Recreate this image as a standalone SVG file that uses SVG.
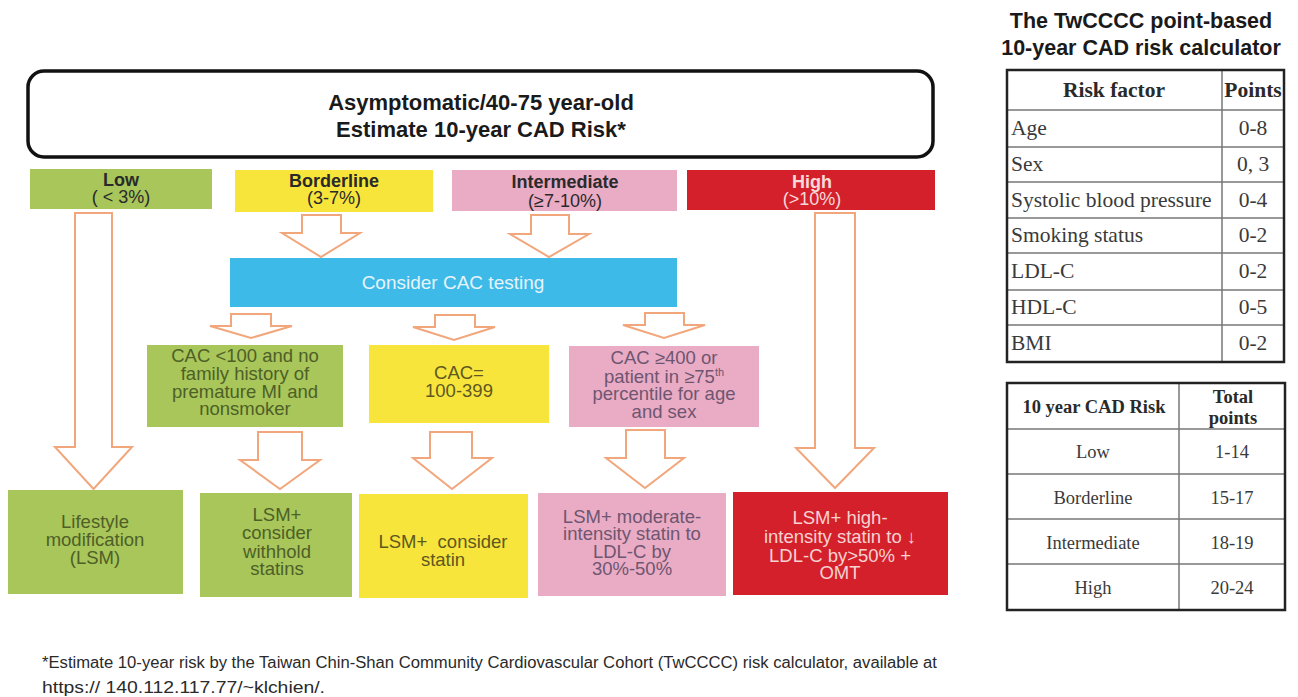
<svg xmlns="http://www.w3.org/2000/svg" width="1298" height="697" viewBox="0 0 1298 697">
<style>
.sans{font-family:"Liberation Sans",Arial,sans-serif}
.serif{font-family:"Liberation Serif","Times New Roman",serif}
.arrow{fill:#fff;stroke:#f2a67b;stroke-width:2;stroke-linejoin:miter}
.green{fill:#a8c65a}
.yellow{fill:#f8e53c}
.pink{fill:#eaabc5}
.red{fill:#d4202a}
.blue{fill:#3dbae8}
.t{font-family:"Liberation Sans",Arial,sans-serif;font-size:18.5px;text-anchor:middle}
.tg{fill:#4e5f27}
.ty{fill:#5e5820}
.tp{fill:#6e5670}
.tr{fill:#f7d2d2}
.lbl{font-family:"Liberation Sans",Arial,sans-serif;font-size:18px;text-anchor:middle;fill:#2a2a2a}
.tab{font-family:"Liberation Serif","Times New Roman",serif;font-size:21.5px;fill:#3a3a3a}
.tab2{font-family:"Liberation Serif","Times New Roman",serif;font-size:18.5px;fill:#3a3a3a;text-anchor:middle}
.outer{fill:none;stroke:#222;stroke-width:2.5}
.inner{stroke:#777;stroke-width:1.5}
</style>
<rect width="1298" height="697" fill="#fff"/>

<g id="connectors">
  <path class="arrow" d="M75,213 H112 V447 H132 L93.5,489 L55,447 H75 Z"/>
  <path class="arrow" d="M815,213 H855 V448 H874 L835,488 L796,448 H815 Z"/>
  <path class="arrow" d="M302,215 H341 V233 H360 L321,257 L282,233 H302 Z"/>
  <path class="arrow" d="M531,215 H569 V234 H589 L549,257 L510,234 H531 Z"/>
  <path class="arrow" d="M231,314 H271 V326 H292 L251,338 L210,326 H231 Z"/>
  <path class="arrow" d="M435,315 H475 V327 H495 L454,340 L413,327 H435 Z"/>
  <path class="arrow" d="M645,313 H684 V325 H705 L664,338 L623,325 H645 Z"/>
  <path class="arrow" d="M258,432 H302 V460 H320 L280,489 L240,460 H258 Z"/>
  <path class="arrow" d="M430,432 H472 V458 H492 L452,489 L413,458 H430 Z"/>
  <path class="arrow" d="M626,430 H665 V458 H684 L645,488 L606,458 H626 Z"/>
</g>

<g id="top">
  <rect x="28" y="71" width="905" height="86" rx="16" ry="16" fill="#fff" stroke="#111" stroke-width="3.5"/>
  <text class="sans" x="481" y="110" font-size="22" font-weight="bold" text-anchor="middle" fill="#1a1a1a">Asymptomatic/40-75 year-old</text>
  <text class="sans" x="481" y="137" font-size="22" font-weight="bold" text-anchor="middle" fill="#1a1a1a">Estimate 10-year CAD Risk*</text>
</g>

<g id="low">
  <rect class="green" x="30" y="169" width="182" height="40"/>
  <text class="lbl" x="121" y="186" font-weight="bold">Low</text>
  <text class="lbl" x="121" y="203">( &lt; 3%)</text>
</g>
<g id="borderline">
  <rect class="yellow" x="235" y="170" width="198" height="42"/>
  <text class="lbl" x="334" y="187" font-weight="bold">Borderline</text>
  <text class="lbl" x="334" y="204">(3-7%)</text>
</g>
<g id="intermediate">
  <rect class="pink" x="452" y="170" width="225" height="41"/>
  <text class="lbl" x="565" y="188" font-weight="bold">Intermediate</text>
  <text class="lbl" x="565" y="207">(≥7-10%)</text>
</g>
<g id="high">
  <rect class="red" x="687" y="170" width="248" height="40"/>
  <text class="lbl" x="812" y="188" font-weight="bold" style="fill:#f6dada">High</text>
  <text class="lbl" x="812" y="205" style="fill:#f6dada">(&gt;10%)</text>
</g>

<g id="cac-testing">
  <rect class="blue" x="230" y="258" width="447" height="49"/>
  <text class="sans" x="453" y="289" font-size="19" text-anchor="middle" fill="#e6f4fb">Consider CAC testing</text>
</g>

<g id="cac-low">
  <rect class="green" x="147" y="345" width="196" height="82"/>
  <text class="t tg" x="245" y="362">CAC &lt;100 and no</text>
  <text class="t tg" x="245" y="380">family history of</text>
  <text class="t tg" x="245" y="398">premature MI and</text>
  <text class="t tg" x="245" y="415">nonsmoker</text>
</g>
<g id="cac-mid">
  <rect class="yellow" x="369" y="345" width="180" height="78"/>
  <text class="t ty" x="459" y="379">CAC=</text>
  <text class="t ty" x="459" y="397">100-399</text>
</g>
<g id="cac-high">
  <rect class="pink" x="569" y="346" width="190" height="81"/>
  <text class="t tp" x="664" y="364">CAC ≥400 or</text>
  <text class="t tp" x="664" y="383">patient in ≥75<tspan font-size="11" dy="-7">th</tspan></text>
  <text class="t tp" x="664" y="400">percentile for age</text>
  <text class="t tp" x="664" y="418">and sex</text>
</g>

<g id="lsm">
  <rect class="green" x="8" y="490" width="175" height="104"/>
  <text class="t tg" x="95" y="528">Lifestyle</text>
  <text class="t tg" x="95" y="546">modification</text>
  <text class="t tg" x="95" y="564">(LSM)</text>
</g>
<g id="lsm-withhold">
  <rect class="green" x="200" y="493" width="152" height="104"/>
  <text class="t tg" x="277" y="521">LSM+</text>
  <text class="t tg" x="277" y="539">consider</text>
  <text class="t tg" x="277" y="558">withhold</text>
  <text class="t tg" x="277" y="575">statins</text>
</g>
<g id="lsm-statin">
  <rect class="yellow" x="359" y="494" width="169" height="104"/>
  <text class="t ty" x="443" y="548" xml:space="preserve">LSM+  consider</text>
  <text class="t ty" x="443" y="566">statin</text>
</g>
<g id="lsm-moderate">
  <rect class="pink" x="538" y="493" width="188" height="103"/>
  <text class="t tp" x="632" y="523">LSM+ moderate-</text>
  <text class="t tp" x="632" y="540">intensity statin to</text>
  <text class="t tp" x="632" y="558">LDL-C by</text>
  <text class="t tp" x="632" y="575">30%-50%</text>
</g>
<g id="lsm-high">
  <rect class="red" x="733" y="492" width="215" height="103"/>
  <text class="t tr" x="840" y="524">LSM+ high-</text>
  <text class="t tr" x="840" y="543">intensity statin to ↓</text>
  <text class="t tr" x="840" y="562">LDL-C by&gt;50% +</text>
  <text class="t tr" x="840" y="579">OMT</text>
</g>

<g id="calculator-title">
  <text class="sans" x="1141" y="28" font-size="21.5" font-weight="bold" text-anchor="middle" fill="#1a1a1a">The TwCCCC point-based</text>
  <text class="sans" x="1141" y="55" font-size="21.5" font-weight="bold" text-anchor="middle" fill="#1a1a1a">10-year CAD risk calculator</text>
</g>

<g id="risk-factor-table">
  <line class="inner" x1="1222" y1="70" x2="1222" y2="362"/>
  <line class="inner" x1="1007" y1="110" x2="1284" y2="110"/>
  <line class="inner" x1="1007" y1="147" x2="1284" y2="147"/>
  <line class="inner" x1="1007" y1="182" x2="1284" y2="182"/>
  <line class="inner" x1="1007" y1="218" x2="1284" y2="218"/>
  <line class="inner" x1="1007" y1="253" x2="1284" y2="253"/>
  <line class="inner" x1="1007" y1="290" x2="1284" y2="290"/>
  <line class="inner" x1="1007" y1="325" x2="1284" y2="325"/>
  <rect class="outer" x="1007" y="70" width="277" height="292"/>
  <text class="tab" x="1114" y="97" font-weight="bold" text-anchor="middle" style="fill:#2a2a2a">Risk factor</text>
  <text class="tab" x="1253" y="97" font-weight="bold" text-anchor="middle" style="fill:#2a2a2a">Points</text>
  <text class="tab" x="1011" y="135">Age</text>
  <text class="tab" x="1011" y="171">Sex</text>
  <text class="tab" x="1011" y="207">Systolic blood pressure</text>
  <text class="tab" x="1011" y="242">Smoking status</text>
  <text class="tab" x="1011" y="278">LDL-C</text>
  <text class="tab" x="1011" y="314">HDL-C</text>
  <text class="tab" x="1011" y="350">BMI</text>
  <text class="tab" x="1253" y="135" text-anchor="middle">0-8</text>
  <text class="tab" x="1253" y="171" text-anchor="middle">0, 3</text>
  <text class="tab" x="1253" y="207" text-anchor="middle">0-4</text>
  <text class="tab" x="1253" y="242" text-anchor="middle">0-2</text>
  <text class="tab" x="1253" y="278" text-anchor="middle">0-2</text>
  <text class="tab" x="1253" y="314" text-anchor="middle">0-5</text>
  <text class="tab" x="1253" y="350" text-anchor="middle">0-2</text>
</g>

<g id="total-points-table">
  <line class="inner" x1="1179" y1="383" x2="1179" y2="610"/>
  <line class="inner" x1="1007" y1="429" x2="1285" y2="429"/>
  <line class="inner" x1="1007" y1="474" x2="1285" y2="474"/>
  <line class="inner" x1="1007" y1="519" x2="1285" y2="519"/>
  <line class="inner" x1="1007" y1="564" x2="1285" y2="564"/>
  <rect class="outer" x="1007" y="383" width="278" height="227"/>
  <text class="tab2" x="1094" y="413" font-weight="bold" style="fill:#2a2a2a">10 year CAD Risk</text>
  <text class="tab2" x="1233" y="403" font-weight="bold" style="fill:#2a2a2a">Total</text>
  <text class="tab2" x="1233" y="424" font-weight="bold" style="fill:#2a2a2a">points</text>
  <text class="tab2" x="1093" y="458">Low</text>
  <text class="tab2" x="1093" y="504">Borderline</text>
  <text class="tab2" x="1093" y="549">Intermediate</text>
  <text class="tab2" x="1093" y="594">High</text>
  <text class="tab2" x="1232" y="458">1-14</text>
  <text class="tab2" x="1232" y="504">15-17</text>
  <text class="tab2" x="1232" y="549">18-19</text>
  <text class="tab2" x="1232" y="594">20-24</text>
</g>

<g id="footnote">
  <text class="sans" x="42" y="668" font-size="16" fill="#2a2a2a" textLength="895" lengthAdjust="spacingAndGlyphs">*Estimate 10-year risk by the Taiwan Chin-Shan Community Cardiovascular Cohort (TwCCCC) risk calculator, available at</text>
  <text class="sans" x="42" y="693" font-size="16" fill="#2a2a2a" textLength="283" lengthAdjust="spacingAndGlyphs">https:// 140.112.117.77/~klchien/.</text>
</g>
</svg>
